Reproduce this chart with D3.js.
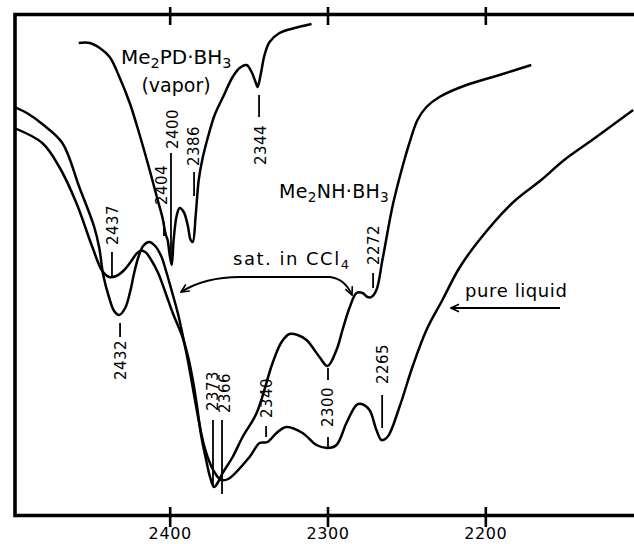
<!DOCTYPE html>
<html><head><meta charset="utf-8">
<script src="https://cdn.jsdelivr.net/npm/d3@7"></script>
<style>
body{margin:0;background:#fff}
svg{display:block}
text{font-family:"DejaVu Sans",sans-serif;fill:#000}
</style>
</head><body>
<svg id="c" width="634" height="544"></svg>
<script>
// ---- data: wavenumber (cm-1), transmittance (%) ----
const xTicks = [2400, 2300, 2200];

const vaporSpectrum = [
 [2457.6,94.4],[2450.6,94.4],[2444.3,93.4],[2438,91.6],[2431.6,87.4],[2425.3,82.4],[2419,76],
 [2412.7,69],[2407.6,63],[2404.5,59.4],[2402.6,56.2],[2401.3,55],[2400,52],[2398.7,50],
 [2397.5,55],[2395.6,59.8],[2393.7,61.4],[2391.1,60.6],[2388.6,58],[2386.7,55],[2385.4,54.6],
 [2383.5,60],[2381.6,67],[2379.1,71.4],[2375.9,75.4],[2371.5,80],[2366.5,83.4],[2360.1,87.6],
 [2355.7,89.4],[2351.3,90],[2348.1,88.6],[2345.6,86.6],[2344.3,85.6],[2342.4,88],[2339.9,92],
 [2336.7,94.6],[2330.4,96.4],[2320.9,97.4],[2310.1,98.2]
];

const cclSpectrum = [
 [2498.5,77.4],[2480.7,74.4],[2469.9,69.6],[2459.1,62.4],[2449,53.6],[2442.7,48.8],[2438.3,47.6],
 [2433.8,47.8],[2428.8,49],[2424.3,50.8],[2421.2,52.2],[2418.6,52.8],[2415.5,52.6],[2411.7,51],
 [2407.3,48.4],[2402.8,44.6],[2397.8,40.2],[2392.1,35.8],[2388.3,31.6],[2385.1,26.6],[2382.6,21.6],
 [2380.1,16],[2376.9,11],[2374.4,7.6],[2371.9,5.6],[2369.3,6.6],[2366.8,8.2],[2360.1,11.6],
 [2353.8,15.6],[2344.9,20.4],[2334.8,30.4],[2329.1,34.6],[2324.1,36.2],[2319,36],[2313.3,35],
 [2305.1,31.6],[2300,29.8],[2294.3,33],[2290.5,37],[2286.1,41.4],[2281.6,44.4],[2277.8,44.4],
 [2274.7,43.6],[2272.2,43.6],[2269,45],[2265.2,51],[2258.9,61.6],[2254.4,67.4],[2251.3,71],
 [2248.1,74.4],[2243,79],[2237.3,81.6],[2229.1,83.6],[2212,86],[2191.1,88],[2170.9,90]
];

const liquidSpectrum = [
 [2498.5,81.6],[2490.5,80.4],[2480.7,78.2],[2468,74.4],[2457.3,65.6],[2447.8,57.6],[2444.6,53.4],
 [2442.1,48],[2438.3,43.4],[2435.2,40.8],[2432,40],[2428.2,41.4],[2425.1,44.6],[2422.5,48.4],
 [2420,51.4],[2416.8,53.8],[2413,54.6],[2409.2,53.8],[2405.4,51.8],[2402.3,48.8],[2398.5,44.6],
 [2394.7,40.2],[2391.5,35.6],[2388.3,30.6],[2385.1,25],[2381.9,19.4],[2378.1,13.8],[2373.7,9.8],
 [2370.5,8],[2367.4,7],[2362.9,7.2],[2349.4,11.6],[2343,14.4],[2338,14.6],[2332.3,16.4],
 [2326,17.6],[2315.8,16.4],[2307,14],[2300,13.4],[2294.3,14],[2288,18.4],[2281.6,22],
 [2278.5,22.2],[2273.4,21],[2269,17],[2265.8,15],[2262,15.6],[2254.4,21.6],[2246.2,29.6],
 [2237.3,37],[2227.2,43],[2216.5,49.4],[2203.8,55],[2182.9,62.4],[2164.6,67],[2150,71],
 [2132.3,75],[2106.3,81]
];

const peakLabels = [
 {text:"2437", wn:2437},{text:"2432", wn:2432},{text:"2404", wn:2404},{text:"2400", wn:2400},
 {text:"2386", wn:2386},{text:"2344", wn:2344},{text:"2373", wn:2373},{text:"2366", wn:2366},
 {text:"2340", wn:2340},{text:"2300", wn:2300},{text:"2272", wn:2272},{text:"2265", wn:2265}
];

// ---- layout (positions only) ----
const labelLayout = {
 "2437":{dx:1.7, cy:225, ticks:[[0.7,252,277]]},
 "2432":{dx:1.9, cy:360, ticks:[[0.9,323,337]]},
 "2404":{dx:-1.4, cy:185, ticks:[[0.6,222,236]]},
 "2400":{dx:3.3, cy:129, ticks:[[1.3,153,258]]},
 "2386":{dx:2.3, cy:146, ticks:[[2.3,172,196]]},
 "2344":{dx:3, cy:145, ticks:[[1,95,117]]},
 "2373":{dx:0.7, cy:391, ticks:[[0.7,420,485]]},
 "2366":{dx:1.7, cy:393, ticks:[[-1.3,420,494]]},
 "2340":{dx:2.7, cy:398, ticks:[[1.7,426,437]]},
 "2300":{dx:0.5, cy:407, ticks:[[0.5,368,380],[0.5,437,447]]},
 "2272":{dx:2.4, cy:245, ticks:[[1.4,273,288]]},
 "2265":{dx:0.4, cy:364, ticks:[[-0.6,395,428]]}
};

const svg = d3.select("#c");
const x = d3.scaleLinear().domain([2498, 2102]).range([15, 640]);
const y = d3.scaleLinear().domain([0, 100]).range([515, 15]);

const defs = svg.append("defs");
defs.append("marker").attr("id","ah").attr("viewBox","0 0 10 10")
  .attr("refX",9).attr("refY",5).attr("markerWidth",10).attr("markerHeight",10)
  .attr("markerUnits","userSpaceOnUse").attr("orient","auto-start-reverse")
  .append("path").attr("d","M1,1.2 L9,5 L1,8.8").attr("fill","none")
  .attr("stroke","#000").attr("stroke-width",1.6);
defs.append("clipPath").attr("id","clip").append("rect")
  .attr("x",16).attr("y",15).attr("width",640).attr("height",500);

// frame
svg.append("path").attr("d","M640,14.5 L15,14.5 L15,515.5 L640,515.5")
  .attr("fill","none").attr("stroke","#000").attr("stroke-width",3.6);

// axes
const axB = d3.axisBottom(x).tickValues(xTicks).tickSize(20).tickPadding(1).tickFormat(d3.format("d"));
const gB = svg.append("g").attr("transform","translate(0,507)").call(axB);
gB.select(".domain").remove();
gB.selectAll("line").attr("stroke","#000").attr("stroke-width",2.6);
gB.selectAll("text").attr("font-size",16).attr("letter-spacing",0.6).attr("font-family","DejaVu Sans");

const axT = d3.axisTop(x).tickValues(xTicks).tickSize(18).tickFormat("");
const gT = svg.append("g").attr("transform","translate(0,25)").call(axT);
gT.select(".domain").remove();
gT.selectAll("line").attr("stroke","#000").attr("stroke-width",2.6);

// spectra
const line = d3.line().x(d=>x(d[0])).y(d=>y(d[1])).curve(d3.curveCatmullRom.alpha(0.5));
const gS = svg.append("g").attr("clip-path","url(#clip)");
[vaporSpectrum, cclSpectrum, liquidSpectrum].forEach(s=>{
  gS.append("path").datum(s).attr("d",line).attr("fill","none")
    .attr("stroke","#000").attr("stroke-width",2.5).attr("stroke-linejoin","round");
});

// peak labels
peakLabels.forEach(p=>{
  const L = labelLayout[p.text];
  const tx = x(p.wn) + L.dx;
  svg.append("text").attr("transform",`translate(${tx},${L.cy}) rotate(-90)`)
    .attr("text-anchor","middle").attr("dominant-baseline","central")
    .attr("font-size",15).attr("letter-spacing",0.5).text(p.text);
  L.ticks.forEach(t=>{
    svg.append("line").attr("x1",x(p.wn)+t[0]).attr("x2",x(p.wn)+t[0])
      .attr("y1",t[1]).attr("y2",t[2]).attr("stroke","#000").attr("stroke-width",1.8);
  });
});

// compound labels with subscripts
function chem(xp, yp, size, parts){
  const t = svg.append("text").attr("x",xp).attr("y",yp).attr("font-size",size);
  let shifted=false;
  parts.forEach(pt=>{
    const sub = pt[1];
    const ts = t.append("tspan").text(pt[0]);
    if(sub && !shifted){ ts.attr("dy",4).attr("font-size",size*0.72); shifted=true; }
    else if(sub){ ts.attr("font-size",size*0.72); }
    else if(!sub && shifted){ ts.attr("dy",-4); shifted=false; }
  });
  return t;
}
chem(121, 64, 20, [["Me"],["2",1],["PD·BH"],["3",1]]);
svg.append("text").attr("x",176).attr("y",92).attr("text-anchor","middle")
  .attr("font-size",19).text("(vapor)");
chem(279, 198, 19, [["Me"],["2",1],["NH·BH"],["3",1]]).attr("letter-spacing",0.3);
chem(233, 265, 18, [["sat. in CCl"],["4",1]]).attr("letter-spacing",1.5);
svg.append("text").attr("x",465).attr("y",297).attr("font-size",18)
  .attr("letter-spacing",0.6).text("pure liquid");

// arrows
svg.append("path").attr("d","M240,277 Q205,277 181,292")
  .attr("fill","none").attr("stroke","#000").attr("stroke-width",1.8).attr("marker-end","url(#ah)");
svg.append("path").attr("d","M240,277 L330,277 Q345,279 352,295")
  .attr("fill","none").attr("stroke","#000").attr("stroke-width",1.8).attr("marker-end","url(#ah)");
svg.append("line").attr("x1",560).attr("y1",308).attr("x2",451).attr("y2",308)
  .attr("stroke","#000").attr("stroke-width",1.8).attr("marker-end","url(#ah)");
</script>
</body></html>
